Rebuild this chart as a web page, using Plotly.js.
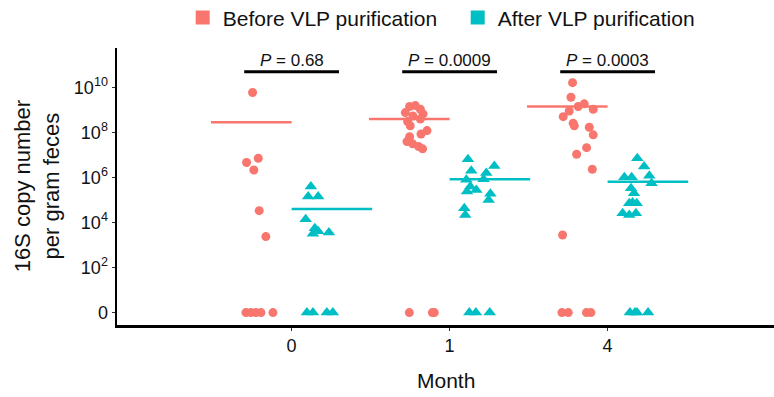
<!DOCTYPE html>
<html>
<head>
<meta charset="utf-8">
<script src="https://cdn.plot.ly/plotly-3.0.1.min.js"></script>
<style>
  html, body { margin: 0; padding: 0; background: #fff; }
  #chart { width: 774px; height: 397px; }
</style>
</head>
<body>
<div id="chart"></div>
<script>
// Months sampled and their labels on the x axis
const months = ['0', '1', '4'];
const seriesNames = ['Before VLP purification', 'After VLP purification'];

// log10(copies + 1) per gram feces; zeros are samples below detection.
// Offsets are each point's horizontal spread around its month (axis units).
const before0 = [9.78, 6.86, 6.67, 6.34, 4.53, 3.38, 0, 0, 0, 0, 0];
const before0Off = [-0.247, -0.211, -0.285, -0.239, -0.205, -0.163, -0.289, -0.258, -0.226, -0.194, -0.118];
const before1 = [9.16, 9.2, 9.04, 8.89, 8.83, 8.74, 8.6, 8.49, 8.3, 8.09, 7.94, 7.82, 7.6, 7.5, 7.38, 7.28, 0, 0, 0];
const before1Off = [-0.253, -0.217, -0.185, -0.28, -0.168, -0.232, -0.185, -0.266, -0.249, -0.143, -0.181, -0.253, -0.27, -0.234, -0.196, -0.171, -0.255, -0.109, -0.097];
const before4 = [10.22, 9.57, 9.28, 9.16, 9.04, 8.96, 8.71, 8.42, 8.3, 8.24, 7.9, 7.33, 7.04, 6.37, 3.45, 0, 0, 0, 0];
const before4Off = [-0.222, -0.232, -0.148, -0.186, -0.091, -0.243, -0.281, -0.218, -0.211, -0.116, -0.091, -0.133, -0.196, -0.097, -0.285, -0.289, -0.249, -0.134, -0.106];

const after0 = [5.6, 5.16, 5.16, 4.15, 3.75, 3.62, 3.5, 3.56, 0, 0, 0, 0];
const after0Off = [0.122, 0.105, 0.168, 0.089, 0.147, 0.168, 0.135, 0.236, 0.097, 0.135, 0.223, 0.261];
const after1 = [6.82, 6.52, 6.31, 6.2, 5.9, 5.93, 5.6, 5.45, 5.38, 5.28, 5.01, 4.64, 4.34, 0, 0, 0];
const after1Off = [0.116, 0.283, 0.137, 0.232, 0.106, 0.215, 0.131, 0.169, 0.11, 0.258, 0.247, 0.093, 0.099, 0.125, 0.166, 0.254];
const after4 = [6.86, 6.49, 6.08, 6.02, 6.02, 5.75, 5.53, 5.31, 4.89, 4.86, 4.86, 4.42, 4.34, 4.42, 0, 0, 0, 0];
const after4Off = [0.188, 0.231, 0.264, 0.106, 0.152, 0.278, 0.148, 0.167, 0.158, 0.137, 0.184, 0.095, 0.137, 0.179, 0.141, 0.173, 0.186, 0.256];

// Group summary levels (log10 scale) drawn as horizontal bars
const beforeSummary = [8.46, 8.6, 9.16];
const afterSummary = [4.6, 5.93, 5.82];

// Comparison P values per month
const pValues = ['0.68', '0.0009', '0.0003'];

// Y axis ticks on log10(copies + 1)
const yTickVals = [0, 2, 4, 6, 8, 10];
const yTickText = ['0', '10<sup>2</sup>', '10<sup>4</sup>', '10<sup>6</sup>', '10<sup>8</sup>', '10<sup>10</sup>'];

const RED = '#F8766D';
const TEAL = '#00BFC4';
const FONT = 'Liberation Sans, Arial, sans-serif';
const DODGE = 0.255;     // half distance between the two series in a month
const BAR_HALF = 0.255;  // half width of a summary bar
const BRACKET_HALF = 0.30;
const BRACKET_Y = 10.71;
const PTEXT_Y = 11.2;

function gather(groups) {
  const xs = [], ys = [];
  groups.forEach(([vals, offs], gi) => {
    vals.forEach((v, i) => { xs.push(gi + offs[i]); ys.push(v); });
  });
  return { xs, ys };
}

const bPts = gather([[before0, before0Off], [before1, before1Off], [before4, before4Off]]);
const aPts = gather([[after0, after0Off], [after1, after1Off], [after4, after4Off]]);

const traces = [];

traces.push({
  type: 'scatter', mode: 'markers', x: bPts.xs, y: bPts.ys, showlegend: false,
  marker: { symbol: 'circle', size: 9, color: RED, line: { width: 0 } },
  hoverinfo: 'skip'
});
traces.push({
  type: 'scatter', mode: 'markers', x: aPts.xs, y: aPts.ys, showlegend: false,
  marker: { symbol: 'triangle-up', size: 11, color: TEAL, line: { width: 0 } },
  hoverinfo: 'skip'
});

// Summary bars per month and series
months.forEach((m, gi) => {
  const cb = gi - DODGE, ca = gi + DODGE;
  traces.push({
    type: 'scatter', mode: 'lines', x: [cb - BAR_HALF, cb + BAR_HALF],
    y: [beforeSummary[gi], beforeSummary[gi]], showlegend: false,
    line: { color: RED, width: 2.5 }, hoverinfo: 'skip'
  });
  traces.push({
    type: 'scatter', mode: 'lines', x: [ca - BAR_HALF, ca + BAR_HALF],
    y: [afterSummary[gi], afterSummary[gi]], showlegend: false,
    line: { color: TEAL, width: 2.5 }, hoverinfo: 'skip'
  });
});

// Legend keys
traces.push({
  type: 'scatter', mode: 'markers', x: [null], y: [null], name: seriesNames[0],
  marker: { symbol: 'square', size: 14, color: RED }
});
traces.push({
  type: 'scatter', mode: 'markers', x: [null], y: [null], name: seriesNames[1],
  marker: { symbol: 'square', size: 14, color: TEAL }
});

const shapes = months.map((m, gi) => ({
  type: 'line', xref: 'x', yref: 'y',
  x0: gi - BRACKET_HALF, x1: gi + BRACKET_HALF, y0: BRACKET_Y, y1: BRACKET_Y,
  line: { color: '#000', width: 3 }
}));

const annotations = months.map((m, gi) => ({
  xref: 'x', yref: 'y', x: gi, y: PTEXT_Y, showarrow: false,
  text: '<i>P</i> = ' + pValues[gi], xanchor: 'center', yanchor: 'middle',
  font: { family: FONT, size: 17, color: '#111' }
}));

annotations.push({
  xref: 'paper', yref: 'paper', x: -0.122, y: 0.5, showarrow: false,
  text: '16S copy number<br>per gram feces', textangle: -90,
  xanchor: 'center', yanchor: 'middle',
  font: { family: FONT, size: 22, color: '#111' }
});
annotations.push({
  xref: 'paper', yref: 'paper', x: 0.5, y: -0.199, showarrow: false,
  text: 'Month', xanchor: 'center', yanchor: 'middle',
  font: { family: FONT, size: 21, color: '#111' }
});

const layout = {
  width: 774, height: 397,
  margin: { l: 117, r: 0, t: 48, b: 72 },
  paper_bgcolor: '#fff', plot_bgcolor: '#fff',
  font: { family: FONT, color: '#111' },
  showlegend: true,
  legend: {
    orientation: 'h', x: 0.1, y: 0.955, xanchor: 'left', yanchor: 'middle',
    xref: 'paper', yref: 'container', font: { family: FONT, size: 21, color: '#111' },
    entrywidth: 230, entrywidthmode: 'pixels',
    itemclick: false, itemdoubleclick: false, bgcolor: 'rgba(0,0,0,0)'
  },
  xaxis: {
    range: [-1.105, 3.053], tickvals: [0, 1, 2], ticktext: months,
    showgrid: false, zeroline: false, showline: true, linecolor: '#000', linewidth: 2.5,
    ticks: 'outside', ticklen: 3, tickwidth: 1.5, tickcolor: '#333',
    tickfont: { family: FONT, size: 18, color: '#111' }, fixedrange: true
  },
  yaxis: {
    range: [-0.55, 11.76], tickvals: yTickVals, ticktext: yTickText,
    showgrid: false, zeroline: false, showline: true, linecolor: '#000', linewidth: 2.5,
    ticks: 'outside', ticklen: 3, tickwidth: 1.5, tickcolor: '#333',
    tickfont: { family: FONT, size: 18, color: '#111' }, fixedrange: true
  },
  shapes: shapes,
  annotations: annotations
};

Plotly.newPlot('chart', traces, layout, { displayModeBar: false, staticPlot: true });
</script>
</body>
</html>
